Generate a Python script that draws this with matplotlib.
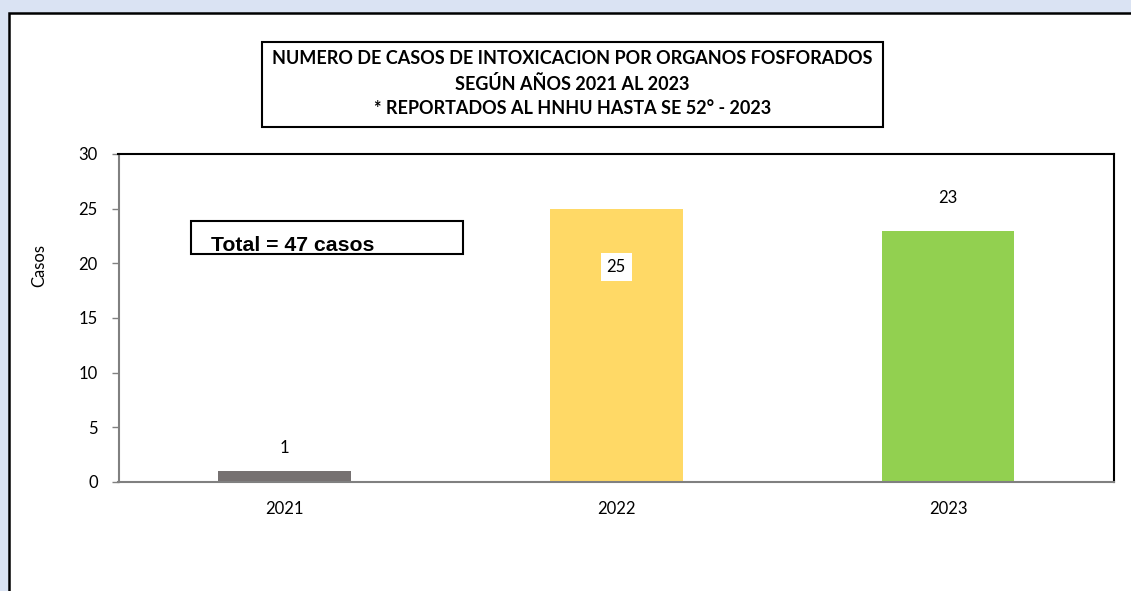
import matplotlib
matplotlib.use("Agg")
import matplotlib.pyplot as plt
from matplotlib.patches import Rectangle

years = ["2021", "2022", "2023"]
cases = [1, 25, 23]
colors = ["#767171", "#FFD966", "#92D050"]
title_lines = ["NUMERO DE CASOS DE INTOXICACION POR ORGANOS FOSFORADOS",
               "SEGÚN AÑOS 2021 AL 2023",
               "* REPORTADOS AL HNHU HASTA SE 52° - 2023"]
total_text = "Total = 47 casos"
yticks = [0, 5, 10, 15, 20, 25, 30]

W, H = 1131, 591
fig = plt.figure(figsize=(W / 100, H / 100), dpi=100)
fig.patch.set_facecolor("#DAE3F3")

def fx(px):
    return px / W

def fy(py):
    return 1 - py / H

# white panel with black border
panel = Rectangle((fx(8.5), -0.1), 1.2, fy(12.5) + 0.1, transform=fig.transFigure,
                  facecolor="white", edgecolor="black", linewidth=1.8, zorder=-5)
fig.patches.append(panel)

font = "Lato"

ax = fig.add_axes([fx(118.5), fy(482), fx(1114) - fx(118.5), fy(154) - fy(482)])
ax.set_zorder(1)
x = list(range(len(years)))
bars = ax.bar(x, cases, width=0.4, color=colors, zorder=2)
ax.set_xlim(-0.5, 2.5)
ax.set_ylim(0, 30)
ax.set_yticks(yticks)
ax.set_xticks(x)
ax.set_xticklabels(years, fontsize=12, family=font)
ax.set_yticklabels([str(t) for t in yticks], fontsize=12, family=font)
ax.tick_params(axis="x", length=0, pad=14)
ax.tick_params(axis="y", length=5, color="#808080", width=1, pad=10)
for s in ["top", "right"]:
    ax.spines[s].set_color("black")
    ax.spines[s].set_linewidth(1.5)
for s in ["left", "bottom"]:
    ax.spines[s].set_color("#808080")
    ax.spines[s].set_linewidth(1.5)
ax.set_ylabel("Casos", fontsize=12, family=font)
ax.yaxis.set_label_coords(-0.072, 0.66)

# value labels
ax.annotate(str(cases[0]), (x[0], cases[0]), xytext=(0, 11), textcoords="offset points",
            ha="center", va="bottom", fontsize=12, family=font)
ax.annotate(str(cases[1]), (x[1], cases[1]), xytext=(0, -42), textcoords="offset points",
            ha="center", va="center", fontsize=12, family=font,
            bbox=dict(boxstyle="square,pad=0.35", facecolor="white", edgecolor="none"))
ax.annotate(str(cases[2]), (x[2], cases[2]), xytext=(0, 18), textcoords="offset points",
            ha="center", va="bottom", fontsize=12, family=font)

# title box
tb = Rectangle((fx(262), fy(127)), fx(883) - fx(262), fy(42) - fy(127), transform=fig.transFigure,
               facecolor="white", edgecolor="black", linewidth=1.5, zorder=3)
fig.patches.append(tb)
for i, line in enumerate(title_lines):
    fig.text(fx(572.5), fy(59 + 25 * i), line, ha="center", va="center", fontsize=13,
             fontweight="bold", family=font, zorder=4)

# total box
box = Rectangle((fx(191), fy(254)), fx(463) - fx(191), fy(221) - fy(254), transform=fig.transFigure,
                facecolor="white", edgecolor="black", linewidth=1.5, zorder=3)
fig.patches.append(box)
fig.text(fx(211), fy(251), total_text, ha="left", va="baseline", fontsize=15.3,
         fontweight="bold", family="Liberation Sans", zorder=4)

fig.savefig("out.png", dpi=100, facecolor=fig.get_facecolor())
